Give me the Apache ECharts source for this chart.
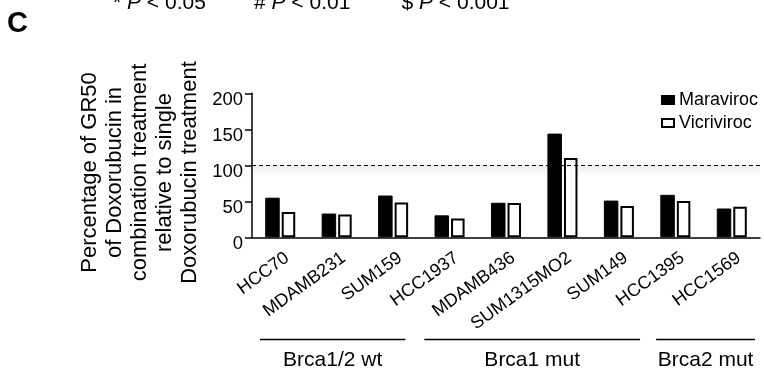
<!DOCTYPE html>
<html><head><meta charset="utf-8">
<script src="https://cdn.jsdelivr.net/npm/echarts@6/dist/echarts.min.js"></script>
<style>html,body{margin:0;padding:0;background:#fff}#c{width:764px;height:371px}</style>
</head><body><div id="c"></div>
<script>
var categories = ['HCC70','MDAMB231','SUM159','HCC1937','MDAMB436','SUM1315MO2','SUM149','HCC1395','HCC1569'];
var maraviroc = [55, 33, 58, 30.5, 48, 144, 51, 59, 40];
var vicriviroc = [35, 31.5, 48.5, 26, 47.5, 110, 43.5, 50.5, 42.5];
var yTicks = [0, 50, 100, 150, 200];
var groupLabels = ['Brca1/2 wt', 'Brca1 mut', 'Brca2 mut'];
var groupFrom = [0, 3, 7];
var groupTo = [2, 6, 8];
var refLine = 100;
var FONT = 'Liberation Sans, Arial, sans-serif';

var chart = echarts.init(document.getElementById('c'));
var option = {
  animation: false,
  textStyle: {fontFamily: FONT, color: '#000'},
  grid: {left: 252, right: 4, top: 93.3, bottom: 133.7, containLabel: false, outerBoundsMode: 'none'},
  legend: {
    left: 656, top: 86, orient: 'vertical', itemGap: 5,
    itemWidth: 12, itemHeight: 8, icon: 'rect', itemTextGap: 5,
    textStyle: {fontFamily: FONT, fontSize: 18, color: '#000'},
    data: ['Maraviroc', 'Vicriviroc']
  },
  xAxis: {
    type: 'category', data: categories,
    axisLine: {lineStyle: {color: '#000', width: 1.5}},
    axisTick: {show: false},
    axisLabel: {rotate: 36, fontSize: 18, color: '#000', fontFamily: FONT, margin: 9, interval: 0,
      verticalAlign: 'top', lineHeight: 24}
  },
  yAxis: {
    type: 'value', min: 0, max: 200, interval: 50,
    axisLine: {show: true, lineStyle: {color: '#000', width: 1.5}},
    axisTick: {show: true, length: 7, lineStyle: {color: '#000', width: 1.5}},
    splitLine: {show: false},
    axisLabel: {fontSize: 18.5, color: '#000', fontFamily: FONT, margin: 9,
      verticalAlign: 'top', lineHeight: 14,
      formatter: function (v) { return yTicks.indexOf(v) >= 0 ? String(v) : ''; }}
  },
  series: [
    {
      name: 'Maraviroc', type: 'bar', data: maraviroc,
      barWidth: 14.5, barGap: '14%',
      itemStyle: {color: '#000', borderColor: '#000', borderWidth: 1},
      markLine: {
        silent: true, symbol: 'none', label: {show: false},
        lineStyle: {color: '#000', type: [4, 3], width: 1.2},
        data: [{yAxis: refLine}]
      },
      markArea: {
        silent: true,
        itemStyle: {color: {type: 'linear', x: 0, y: 0, x2: 0, y2: 1,
          colorStops: [{offset: 0, color: 'rgba(0,0,0,0.07)'}, {offset: 1, color: 'rgba(0,0,0,0)'}]}},
        data: [[{yAxis: refLine}, {yAxis: refLine - 16}]]
      }
    },
    {
      name: 'Vicriviroc', type: 'bar', data: vicriviroc,
      barWidth: 13.5,
      itemStyle: {color: '#fff', borderColor: '#000', borderWidth: 2}
    }
  ]
};
chart.setOption(option);

function buildGraphics() {
  var g = [];
  g.push({type: 'text', x: 7, y: 24, style: {text: 'C', font: 'bold 29px ' + FONT, fill: '#000', verticalAlign: 'middle'}});
  var heads = [['*', 113], ['#', 254], ['$', 401.5]];
  var headTexts = [' < 0.05', ' < 0.01', ' < 0.001'];
  heads.forEach(function (h, i) {
    g.push({type: 'text', x: h[1], y: 3.5, style: {
      text: '{n|' + h[0] + ' }{i|P}{n|' + headTexts[i] + '}',
      verticalAlign: 'middle',
      rich: {
        i: {font: 'italic 21px ' + FONT, fill: '#000'},
        n: {font: '21px ' + FONT, fill: '#000'}
      }}});
  });
  var ylines = ['Percentage of GR50', 'of Doxorubucin in', 'combination treatment', 'relative to single', 'Doxorubucin treatment'];
  g.push({type: 'text', x: 140, y: 172.5, rotation: Math.PI / 2, style: {
    text: ylines.join('\n'), font: '22px ' + FONT, fill: '#000',
    align: 'center', verticalAlign: 'middle', lineHeight: 25}});
  var step = chart.convertToPixel({xAxisIndex: 0}, categories[1]) - chart.convertToPixel({xAxisIndex: 0}, categories[0]);
  var insetL = [8, 3, 9], insetR = [16, 7, 5];
  for (var k = 0; k < groupLabels.length; k++) {
    var x1 = chart.convertToPixel({xAxisIndex: 0}, categories[groupFrom[k]]) - step / 2 + insetL[k];
    var x2 = chart.convertToPixel({xAxisIndex: 0}, categories[groupTo[k]]) + step / 2 - insetR[k];
    g.push({type: 'line', shape: {x1: x1, y1: 339.5, x2: x2, y2: 339.5}, style: {stroke: '#000', lineWidth: 1.5}});
    g.push({type: 'text', x: (x1 + x2) / 2, y: 360, style: {text: groupLabels[k], font: '21px ' + FONT, fill: '#000', align: 'center', verticalAlign: 'middle'}});
  }
  return g;
}
chart.setOption({graphic: buildGraphics()});
</script>
</body></html>
